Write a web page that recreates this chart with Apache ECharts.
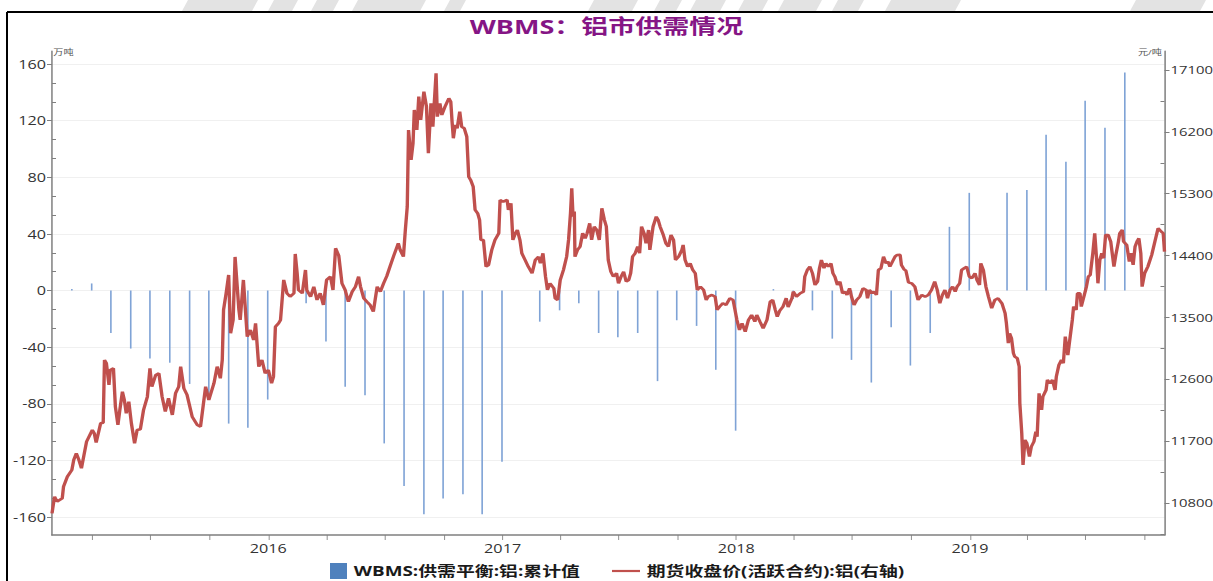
<!DOCTYPE html>
<html>
<head>
<meta charset="utf-8">
<script src="https://cdn.jsdelivr.net/npm/echarts@6/dist/echarts.min.js"></script>
<style>
html,body{margin:0;padding:0;background:#fff;overflow:hidden;width:1213px;height:581px;}
#chart{width:899px;height:581px;transform:scaleX(1.349277);transform-origin:0 0;}
</style>
</head>
<body>
<div id="chart"></div>
<script>
// ---------------- data ----------------
const titleText = 'WBMS：铝市供需情况';
const barName = 'WBMS:供需平衡:铝:累计值';
const lineName = '期货收盘价(活跃合约):铝(右轴)';
const leftUnit = '万吨';
const rightUnit = '元/吨';

const leftTicks = [-160, -120, -80, -40, 0, 40, 80, 120, 160];
const rightTicks = [10800, 11700, 12600, 13500, 14400, 15300, 16200, 17100];
const yearLabels = [2016, 2017, 2018, 2019];

// WBMS cumulative balance (10k t), month-end
const barDates = [
  '2015-02-28','2015-03-31','2015-04-30','2015-05-31','2015-06-30','2015-07-31','2015-08-31','2015-09-30','2015-10-31','2015-11-30','2015-12-31',
  '2016-02-29','2016-03-31','2016-04-30','2016-05-31','2016-06-30','2016-07-31','2016-08-31','2016-09-30','2016-10-31','2016-11-30','2016-12-31',
  '2017-02-28','2017-03-31','2017-04-30','2017-05-31','2017-06-30','2017-07-31','2017-08-31','2017-09-30','2017-10-31','2017-11-30','2017-12-31',
  '2018-02-28','2018-03-31','2018-04-30','2018-05-31','2018-06-30','2018-07-31','2018-08-31','2018-09-30','2018-10-31','2018-11-30','2018-12-31',
  '2019-02-28','2019-03-31','2019-04-30','2019-05-31','2019-06-30','2019-07-31','2019-08-31'
];
const barValues = [
  1, 5, -30, -41, -48, -51, -66, -73, -94, -97, -77,
  -9, -36, -68, -74, -108, -138, -158, -147, -144, -158, -121,
  -22, -14, -9, -30, -33, -30, -64, -21, -25, -56, -99,
  1, -6, -14, -34, -49, -65, -26, -53, -30, 45, 69,
  69, 71, 110, 91, 134, 115, 154
];

// Futures close (active contract), yuan/t
const priceDates = [
  '2015-01-28',
  '2015-02-01','2015-02-05','2015-02-13','2015-02-15','2015-02-21','2015-02-28',
  '2015-03-03','2015-03-07','2015-03-11','2015-03-15','2015-03-19','2015-03-23',
  '2015-04-01','2015-04-04','2015-04-07','2015-04-14','2015-04-18','2015-04-20','2015-04-23','2015-04-27','2015-04-29',
  '2015-05-04','2015-05-07','2015-05-11','2015-05-14','2015-05-18','2015-05-21','2015-05-24','2015-05-28',
  '2015-06-01','2015-06-06','2015-06-10','2015-06-15','2015-06-20','2015-06-26','2015-06-30',
  '2015-07-03','2015-07-09','2015-07-14','2015-07-19','2015-07-24','2015-07-29',
  '2015-08-04','2015-08-09','2015-08-14','2015-08-17','2015-08-22','2015-08-27',
  '2015-09-04','2015-09-12','2015-09-17','2015-09-21','2015-09-25','2015-09-30',
  '2015-10-08','2015-10-13','2015-10-18','2015-10-21','2015-10-23','2015-10-27','2015-10-31',
  '2015-11-03','2015-11-07','2015-11-10','2015-11-16','2015-11-18','2015-11-23','2015-11-29',
  '2015-12-04','2015-12-09','2015-12-12','2015-12-17','2015-12-22','2015-12-27',
  '2016-01-01','2016-01-06','2016-01-09','2016-01-12','2016-01-17','2016-01-20','2016-01-25','2016-01-30',
  '2016-02-04','2016-02-10','2016-02-12','2016-02-15','2016-02-17','2016-02-23','2016-02-28',
  '2016-03-01','2016-03-07','2016-03-12','2016-03-17','2016-03-22','2016-03-27',
  '2016-04-01','2016-04-07','2016-04-11','2016-04-15','2016-04-20','2016-04-25','2016-04-30',
  '2016-05-05','2016-05-11','2016-05-16','2016-05-21','2016-05-24','2016-05-29',
  '2016-06-03','2016-06-08','2016-06-13','2016-06-19','2016-06-24','2016-06-29',
  '2016-07-04','2016-07-09','2016-07-15','2016-07-22','2016-07-25','2016-07-30',
  '2016-08-02','2016-08-05','2016-08-07','2016-08-11','2016-08-14','2016-08-16','2016-08-20','2016-08-23','2016-08-26','2016-08-31',
  '2016-09-04','2016-09-07','2016-09-11','2016-09-14','2016-09-19','2016-09-21','2016-09-25','2016-09-28',
  '2016-10-03','2016-10-09','2016-10-12','2016-10-14','2016-10-16','2016-10-19','2016-10-22','2016-10-26','2016-10-29',
  '2016-11-02','2016-11-06','2016-11-09','2016-11-12','2016-11-16','2016-11-19','2016-11-23','2016-11-26','2016-11-28',
  '2016-12-02','2016-12-06','2016-12-10','2016-12-15','2016-12-20','2016-12-26','2016-12-28',
  '2017-01-02','2017-01-08','2017-01-10','2017-01-14','2017-01-17','2017-01-21','2017-01-24','2017-01-28','2017-01-31',
  '2017-02-05','2017-02-10','2017-02-16','2017-02-21','2017-02-26',
  '2017-03-01','2017-03-05','2017-03-09','2017-03-12','2017-03-16','2017-03-22','2017-03-24','2017-03-28',
  '2017-04-01','2017-04-06','2017-04-11','2017-04-14','2017-04-17','2017-04-19','2017-04-21','2017-04-23','2017-04-24','2017-04-28',
  '2017-05-02','2017-05-06','2017-05-10','2017-05-13','2017-05-17','2017-05-20','2017-05-24','2017-05-28',
  '2017-06-01','2017-06-05','2017-06-09','2017-06-12','2017-06-15','2017-06-19','2017-06-23','2017-06-28',
  '2017-07-01','2017-07-05','2017-07-09','2017-07-13','2017-07-17','2017-07-20','2017-07-23','2017-07-27','2017-07-31',
  '2017-08-03','2017-08-06','2017-08-10','2017-08-13','2017-08-17','2017-08-19','2017-08-24','2017-08-29',
  '2017-09-01','2017-09-04','2017-09-09','2017-09-13','2017-09-17','2017-09-21','2017-09-25','2017-09-28',
  '2017-10-03','2017-10-08','2017-10-10','2017-10-13','2017-10-17','2017-10-21','2017-10-25','2017-10-29',
  '2017-11-01','2017-11-06','2017-11-11','2017-11-15','2017-11-18','2017-11-24','2017-11-29',
  '2017-12-02','2017-12-06','2017-12-11','2017-12-16','2017-12-22','2017-12-27',
  '2018-01-02','2018-01-06','2018-01-10','2018-01-15','2018-01-20','2018-01-25','2018-01-30',
  '2018-02-02','2018-02-07','2018-02-12','2018-02-18','2018-02-23','2018-02-27',
  '2018-03-03','2018-03-06','2018-03-10','2018-03-15','2018-03-20','2018-03-23','2018-03-29','2018-03-31',
  '2018-04-05','2018-04-11','2018-04-16','2018-04-18','2018-04-22','2018-04-26','2018-04-30',
  '2018-05-04','2018-05-08','2018-05-11','2018-05-14','2018-05-18','2018-05-21','2018-05-25','2018-05-29',
  '2018-06-01','2018-06-04','2018-06-08','2018-06-12','2018-06-16','2018-06-20','2018-06-23','2018-06-27','2018-06-30',
  '2018-07-04','2018-07-08','2018-07-13','2018-07-18','2018-07-23','2018-07-25','2018-07-28',
  '2018-08-01','2018-08-04','2018-08-08','2018-08-11','2018-08-15','2018-08-19','2018-08-23','2018-08-26','2018-08-29',
  '2018-09-02','2018-09-06','2018-09-09','2018-09-14','2018-09-16','2018-09-20','2018-09-23','2018-09-27',
  '2018-10-02','2018-10-07','2018-10-12','2018-10-18','2018-10-23','2018-10-28',
  '2018-11-02','2018-11-07','2018-11-11','2018-11-15','2018-11-19','2018-11-23','2018-11-27',
  '2018-12-01','2018-12-05','2018-12-09','2018-12-12','2018-12-16','2018-12-19','2018-12-23','2018-12-27','2018-12-31',
  '2019-01-04','2019-01-09','2019-01-12','2019-01-16','2019-01-18','2019-01-22','2019-01-26','2019-01-30',
  '2019-02-04','2019-02-09','2019-02-14','2019-02-20','2019-02-25','2019-02-27',
  '2019-03-02','2019-03-04','2019-03-07','2019-03-10','2019-03-12','2019-03-16','2019-03-19','2019-03-20','2019-03-23','2019-03-25','2019-03-28','2019-03-31',
  '2019-04-04','2019-04-07','2019-04-11','2019-04-14','2019-04-16','2019-04-19','2019-04-23','2019-04-25','2019-04-30',
  '2019-05-02','2019-05-06','2019-05-10','2019-05-14','2019-05-16','2019-05-20','2019-05-24','2019-05-27','2019-05-30',
  '2019-06-03','2019-06-06','2019-06-10','2019-06-12','2019-06-16','2019-06-18','2019-06-22','2019-06-24','2019-06-28',
  '2019-07-02','2019-07-05','2019-07-08','2019-07-12','2019-07-15','2019-07-18','2019-07-20','2019-07-23','2019-07-26','2019-07-29',
  '2019-08-01','2019-08-05','2019-08-09','2019-08-12','2019-08-14','2019-08-17','2019-08-21','2019-08-23','2019-08-27','2019-08-29',
  '2019-09-03','2019-09-07','2019-09-10','2019-09-13','2019-09-16','2019-09-19','2019-09-22','2019-09-25','2019-09-27',
  '2019-10-01','2019-10-06','2019-10-12','2019-10-17','2019-10-22','2019-10-27','2019-10-30',
  '2019-11-01'
];
const priceValues = [
  10650,
  10892,10819,10868,11037,11183,11280,
  11426,11523,11426,11305,11499,11692,
  11862,11814,11678,11960,11968,12881,12833,12517,12735,
  12760,12202,11935,12153,12420,12299,12105,12275,
  11960,11669,11862,11872,12153,12347,12760,
  12492,12663,12687,12347,12129,12323,
  12081,12396,12492,12784,12468,12372,
  12056,11935,11911,12202,12492,12299,
  12541,12784,12614,12881,13608,13851,14118,
  13269,13463,14380,13608,13463,14045,13220,
  13317,13172,13415,12784,12881,12687,
  12735,12541,12638,13365,13415,13463,14045,13851,
  13802,13851,14423,14142,13899,13851,14190,
  13899,13802,13947,13754,13851,13681,
  14045,14093,13899,14506,14400,13996,13899,
  13729,13875,13947,14093,13947,13778,
  13729,13681,13584,13947,13875,13996,
  14100,14239,14400,14578,14481,14384,
  14772,15111,16227,15791,16033,16518,16227,16712,16373,16785,
  16567,15888,16615,16275,17052,16421,16615,16445,
  16567,16688,16639,16348,16106,16300,16252,16494,16275,
  16252,16130,15548,15500,15402,15063,15015,14918,14627,
  14627,14239,14263,14481,14627,14724,15209,
  15184,15209,15063,15160,14627,14724,14772,14627,14433,
  14336,14239,14142,14336,14384,
  14287,14433,14093,13899,13996,13924,13778,13754,
  14045,14190,14384,14627,15015,15379,14966,15039,14384,14481,
  14530,14724,14651,14724,14869,14627,14821,14772,
  14627,15088,14918,14821,14336,14166,14093,14142,
  13996,14093,14166,14021,14045,14142,14384,14433,14530,
  14433,14821,14724,14578,14772,14481,14821,14966,
  14918,14821,14700,14578,14530,14700,14627,14336,
  14384,14481,14554,14336,14239,14287,14190,14142,
  13899,13947,13899,13754,13802,13827,13802,
  13608,13657,13705,13681,13778,13754,
  13463,13317,13415,13293,13463,13536,13438,
  13536,13438,13342,13463,13729,13754,
  13608,13511,13600,13657,13780,13650,13780,13875,
  13802,13851,13875,14093,14190,14239,14142,
  13972,14021,14215,14336,14215,14287,14239,14287,
  14142,14093,13972,14021,13851,13875,13827,13924,13802,
  13681,13754,13802,13924,13899,13778,13899,
  13851,13875,13827,14190,14215,14384,14287,14312,14239,
  14312,14384,14409,14410,14263,14200,14180,14010,
  13996,13947,13754,13827,13802,13827,
  13899,14021,13899,13705,13827,13899,13778,
  13899,13947,13875,13947,13996,14190,14215,14239,14093,
  14069,14142,14045,13972,14287,14190,13947,13802,
  13633,13754,13778,13705,13560,13415,
  13124,13269,13196,12978,12929,12905,12784,12251,11814,11353,11717,11668,
  11474,11620,11692,11838,11765,12396,12153,12347,12444,
  12590,12541,12590,12444,12638,12808,12881,12833,13220,
  12950,13172,13463,13657,13608,13851,13851,13657,13802,
  13947,14093,14118,14433,14724,14336,13996,14336,14433,14360,
  14700,14700,14603,14384,14239,14409,14603,14724,14772,14603,
  14554,14312,14433,14263,14530,14603,14651,14433,13947,
  14142,14239,14409,14603,14797,14748,14724,
  14457
];

// ---------------- layout helpers ----------------
// The reference screenshot is horizontally stretched; the chart is drawn at a
// narrower base width and the container is scaled horizontally by CSS.
const STRETCH = 1213 / 899;
const hx = px => px / STRETCH;   // display px -> base px (horizontal only)
const FONT = "'Open Sans','Noto Sans CJK SC',sans-serif";
const AXIS_COLOR = '#7f7f7f';

const ts = (y, m, d) => new Date(y, m - 1, d).getTime();
const parseDay = s => { const p = s.split('-').map(Number); return ts(p[0], p[1], p[2]); };
const xMin = ts(2015, 1, 28);
const xMax = ts(2019, 11, 1);
const yearTicks = yearLabels.map(y => ts(y, 1, 1));
const quarterTicks = [];
for (let y = 2015; y <= 2019; y++) {
  [1, 4, 7, 10].forEach(m => { const t = ts(y, m, 1); if (t >= xMin && t <= xMax) quarterTicks.push(t); });
}
const leftMin = -172.7, leftMax = 169.2;
const rightMin = 10334, rightMax = 17376;
const leftMinor = [];
for (let i = 0; i < leftTicks.length - 1; i++) {
  const a = leftTicks[i], step = (leftTicks[i + 1] - a) / 3;
  leftMinor.push(a + step, a + 2 * step);
}
const rightMinor = [rightTicks[0] - 450];
for (let i = 0; i < rightTicks.length - 1; i++) rightMinor.push((rightTicks[i] + rightTicks[i + 1]) / 2);

// faint watermark fragments visible above the frame (display x ranges)
const watermarkSpans = [[182, 252], [268, 292], [311, 333], [352, 420], [444, 460], [588, 632], [654, 676], [690, 720], [738, 762], [778, 816], [832, 858], [885, 955], [1130, 1200]];

const chart = echarts.init(document.getElementById('chart'), null, { renderer: 'svg', width: 899, height: 581 });

const yBase = {
  type: 'value',
  nameMoveOverlap: false,
  splitLine: { show: false },
  axisLine: { show: true, onZero: false, lineStyle: { color: AXIS_COLOR, width: 1.5 / STRETCH } },
  axisTick: { show: true, length: hx(5), lineStyle: { color: AXIS_COLOR, width: 1 } },
  axisLabel: { fontSize: 12, color: '#333', fontFamily: FONT, formatter: v => String(v) }
};

const graphics = watermarkSpans.map(s => ({
  type: 'polygon', silent: true, z: -1,
  shape: { points: [[hx(s[0] + 6), 0], [hx(s[1] + 6), 0], [hx(s[1]), 11], [hx(s[0]), 11]] },
  style: { fill: '#e3e3e3' }
}));
graphics.push(
  { type: 'line', silent: true, shape: { x1: hx(7), y1: 12, x2: 899, y2: 12 }, style: { stroke: '#000', lineWidth: 2 } },
  { type: 'line', silent: true, shape: { x1: hx(7), y1: 12, x2: hx(7), y2: 581 }, style: { stroke: '#000', lineWidth: 2 / STRETCH } }
);

chart.setOption({
  animation: false,
  backgroundColor: '#fff',
  title: {
    text: titleText,
    left: 'center',
    top: 15,
    padding: 0,
    textStyle: { fontSize: 20, fontWeight: 'bold', color: '#851585', fontFamily: FONT, lineHeight: 22 }
  },
  legend: [
    {
      data: [{ name: barName, icon: 'rect', itemStyle: { color: '#4F81BD' } }],
      left: hx(330), top: 563, padding: 0,
      itemWidth: hx(17), itemHeight: 16,
      selectedMode: false,
      textStyle: { fontSize: 14, fontWeight: 'bold', color: '#1a1a1a', fontFamily: FONT }
    },
    {
      data: [{ name: lineName, icon: 'rect', itemStyle: { color: '#C0504D' } }],
      left: hx(612), top: 564, padding: 0,
      itemWidth: hx(28), itemHeight: 2.2,
      selectedMode: false,
      textStyle: { fontSize: 14, fontWeight: 'bold', color: '#1a1a1a', fontFamily: FONT }
    }
  ],
  grid: { left: hx(52), right: hx(48.5), top: 51, bottom: 46, containLabel: false, outerBoundsMode: 'none' },
  xAxis: [{
    type: 'value', min: xMin, max: xMax, position: 'bottom',
    axisLine: { show: true, onZero: false, lineStyle: { color: AXIS_COLOR, width: 1.5 } },
    axisTick: { show: true, length: 5, customValues: quarterTicks, lineStyle: { color: AXIS_COLOR, width: 1 / STRETCH } },
    axisLabel: {
      show: true, customValues: yearTicks, margin: 7, fontSize: 12, color: '#333', fontFamily: FONT,
      formatter: v => String(new Date(v).getFullYear())
    },
    splitLine: { show: false }
  }],
  yAxis: [
    Object.assign({}, yBase, {
      position: 'left', min: leftMin, max: leftMax,
      name: leftUnit, nameLocation: 'end', nameGap: -1,
      nameTextStyle: { fontSize: 7.5, color: '#555', align: 'left', verticalAlign: 'middle', padding: [0, 0, 0, 1], fontFamily: FONT },
      axisTick: Object.assign({}, yBase.axisTick, { customValues: leftTicks }),
      axisLabel: Object.assign({}, yBase.axisLabel, { customValues: leftTicks, margin: hx(6) }),
      splitLine: { show: true, lineStyle: { color: '#f0f0f0', width: 1 } }
    }),
    Object.assign({}, yBase, {
      position: 'right', min: rightMin, max: rightMax,
      name: rightUnit, nameLocation: 'end', nameGap: -1,
      nameTextStyle: { fontSize: 7.5, color: '#555', align: 'right', verticalAlign: 'middle', padding: [0, 2, 0, 0], fontFamily: FONT },
      axisTick: Object.assign({}, yBase.axisTick, { customValues: rightTicks }),
      axisLabel: Object.assign({}, yBase.axisLabel, { customValues: rightTicks, margin: hx(6), fontSize: 11 })
    }),
    {
      type: 'value', position: 'left', min: leftMin, max: leftMax,
      axisLine: { show: false }, axisLabel: { show: false }, splitLine: { show: false },
      axisTick: { show: true, inside: true, length: hx(4), customValues: leftMinor, lineStyle: { color: AXIS_COLOR, width: 1 } }
    },
    {
      type: 'value', position: 'right', min: rightMin, max: rightMax,
      axisLine: { show: false }, axisLabel: { show: false }, splitLine: { show: false },
      axisTick: { show: true, inside: true, length: hx(4), customValues: rightMinor, lineStyle: { color: AXIS_COLOR, width: 1 } }
    }
  ],
  series: [
    {
      type: 'bar', name: barName, xAxisIndex: 0, yAxisIndex: 0,
      data: barDates.map((d, i) => [parseDay(d), barValues[i]]),
      barWidth: 1.2,
      itemStyle: { color: '#7fa3d6' },
      z: 2, silent: true
    },
    {
      type: 'line', name: lineName, xAxisIndex: 0, yAxisIndex: 1,
      data: priceDates.map((d, i) => [parseDay(d), priceValues[i]]),
      symbol: 'none', showSymbol: false,
      lineStyle: { color: '#C0504D', width: 2.5 },
      itemStyle: { color: '#C0504D' },
      z: 3, silent: true
    }
  ],
  graphic: graphics
});
</script>
</body>
</html>
